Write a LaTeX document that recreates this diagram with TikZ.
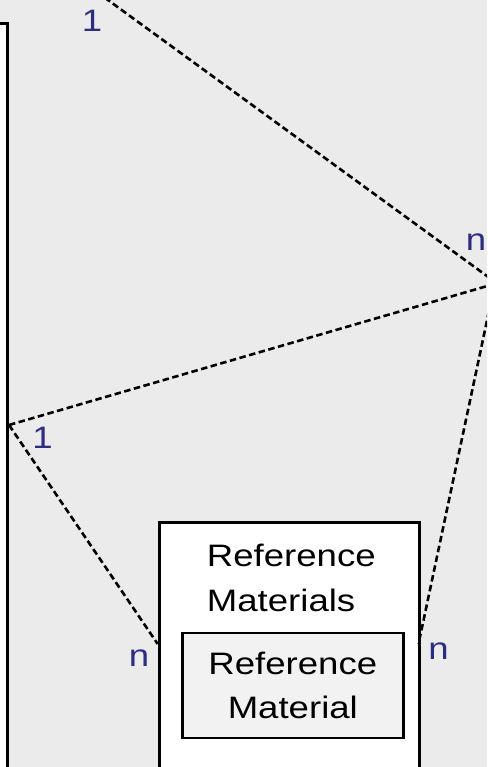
\documentclass[tikz,border=0pt]{standalone}
\usepackage{fontspec}
\setmainfont{Liberation Sans}[FakeStretch=1.18]
\definecolor{canvas}{RGB}{235,235,235}
\definecolor{innerfill}{RGB}{242,242,242}
\definecolor{cardinality}{RGB}{44,44,128}
\begin{document}
\begin{tikzpicture}[x=1pt,y=-1pt,
  box/.style={draw=black,line width=2.8pt,rectangle,inner sep=0pt},
  link/.style={draw=black,line width=2.6pt,dash pattern=on 6.5pt off 3.5pt},
  card/.style={text=cardinality,font=\fontsize{31}{37}\selectfont,anchor=base,inner sep=0pt},
  title/.style={font=\fontsize{31}{44.5}\selectfont,inner sep=0pt}]
\fill[canvas] (0,0) rectangle (487,767);
\useasboundingbox (0,0) rectangle (487,767);
\clip (0,0) rectangle (487,767);

% entity on the left, mostly outside the view
\node[box,fill=white,minimum width=100pt,minimum height=800pt,anchor=north east] (entity) at (9,22.3) {};

% reference materials container with its nested entity
\node[box,fill=white,minimum width=260pt,minimum height=300pt,anchor=north west] (materials) at (157.7,520.7) {};
\node[title,align=left,anchor=base west] (materialstitle) at (206.7,611) {Reference\\Materials};
\node[box,title,fill=innerfill,minimum width=221pt,minimum height=105pt,align=center] (material) at (292.8,685.5) {Reference\\Material};

% connection points
\coordinate (hub) at (80.5,-20);
\coordinate (eastA) at (489,277.5);
\coordinate (eastB) at (489,285.5);
\coordinate (eastC) at (489,311);
\coordinate (entityport) at (9,425);
\coordinate (materialsW) at (157.7,644);
\coordinate (materialsE) at (418.5,644);

% relationships
\draw[link] (hub) -- (eastA);
\draw[link] (entityport) -- (eastB);
\draw[link] (entityport) -- (materialsW);
\draw[link] (eastC) -- (materialsE);

% cardinalities
\node[card] (cardA) at (92,32) {1};
\node[card] (cardB) at (42.5,448) {1};
\node[card] (cardC) at (476,250) {n};
\node[card] (cardD) at (139,666) {n};
\node[card] (cardE) at (438.5,659) {n};
\end{tikzpicture}
\end{document}
